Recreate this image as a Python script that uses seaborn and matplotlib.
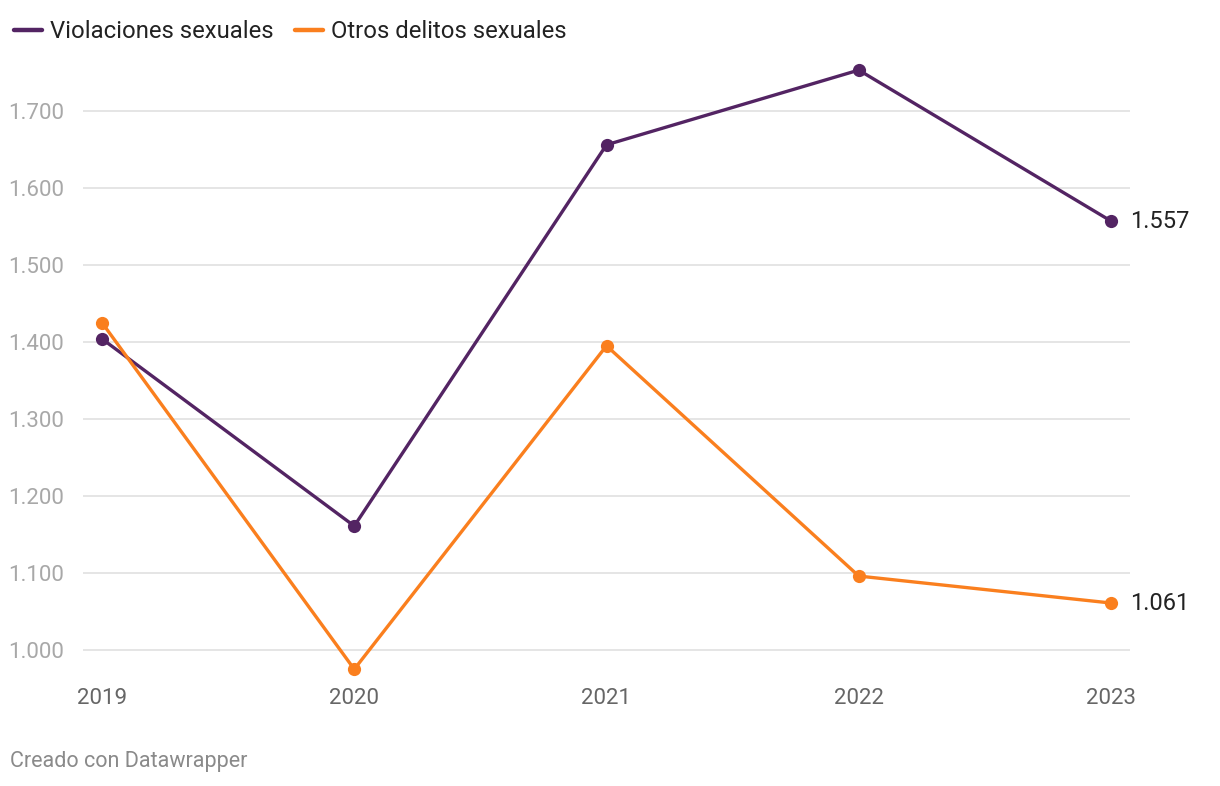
import numpy as np
import pandas as pd
import matplotlib
matplotlib.use("Agg")
import matplotlib.pyplot as plt
from matplotlib.lines import Line2D
import seaborn as sns

# Data
years = [2019, 2020, 2021, 2022, 2023]
violaciones = [1404, 1161, 1656, 1753, 1557]
otros = [1425, 975, 1395, 1096, 1061]
series_names = ["Violaciones sexuales", "Otros delitos sexuales"]
y_ticks = [1000, 1100, 1200, 1300, 1400, 1500, 1600, 1700]

colors = {"Violaciones sexuales": "#532463", "Otros delitos sexuales": "#fa7f1e"}

df = pd.DataFrame({
    "year": years * 2,
    "value": violaciones + otros,
    "serie": [series_names[0]] * len(years) + [series_names[1]] * len(years),
})

sns.set_theme(style="white")
plt.rcParams["font.family"] = ["Roboto", "DejaVu Sans"]

W, H = 1220, 786
fig = plt.figure(figsize=(W / 100, H / 100), dpi=100)
ax_left, ax_right = 83, 1130
ax_top, ax_bottom = 57, 680.8
ax = fig.add_axes([ax_left / W, 1 - ax_bottom / H, (ax_right - ax_left) / W, (ax_bottom - ax_top) / H])

sns.lineplot(data=df, x="year", y="value", hue="serie", palette=colors,
             marker="o", markersize=9.5, markeredgewidth=0, linewidth=2.4,
             legend=False, ax=ax, zorder=3)

ax.set_xlim(2019 - 19 / 252.25, 2023 + 19 / 252.25)
ax.set_ylim(960, 1770)

# Grid & spines
for s in ax.spines.values():
    s.set_visible(False)
ax.set_yticks(y_ticks)
ax.set_yticklabels([f"{v:,}".replace(",", ".") for v in y_ticks])
ax.grid(axis="y", color="#e0e0e0", linewidth=1.2, zorder=0)
ax.grid(axis="x", visible=False)
ax.set_xticks(years)
ax.set_xticklabels([str(y) for y in years])
ax.tick_params(axis="y", length=0, pad=54, labelsize=16, labelcolor="#a8a8a8")
ax.tick_params(axis="x", length=0, pad=5, labelsize=16, labelcolor="#666666")
for lbl in ax.get_yticklabels():
    lbl.set_horizontalalignment("left")
ax.set_xlabel("")
ax.set_ylabel("")

# End labels
for vals in (violaciones, otros):
    ax.annotate(f"{vals[-1]:,}".replace(",", "."), xy=(years[-1], vals[-1]),
                xytext=(14, 0), textcoords="offset points", va="center", ha="left",
                fontsize=17, color="#222222", annotation_clip=False)

# Legend
handles = [Line2D([0], [0], color=colors[n], linewidth=3.2, solid_capstyle="round") for n in series_names]
fig.legend(handles, series_names, loc="upper left", bbox_to_anchor=(0.003, 0.988), ncol=2,
           frameon=False, fontsize=17.2, handlelength=1.15, handletextpad=0.35,
           columnspacing=0.9, borderpad=0.2, borderaxespad=0.25, labelcolor="#222222")

fig.text(10 / W, 1 - 762 / H, "Creado con Datawrapper", fontsize=15.5, color="#8a8a8a",
         ha="left", va="center")

fig.savefig("out.png", dpi=100)
